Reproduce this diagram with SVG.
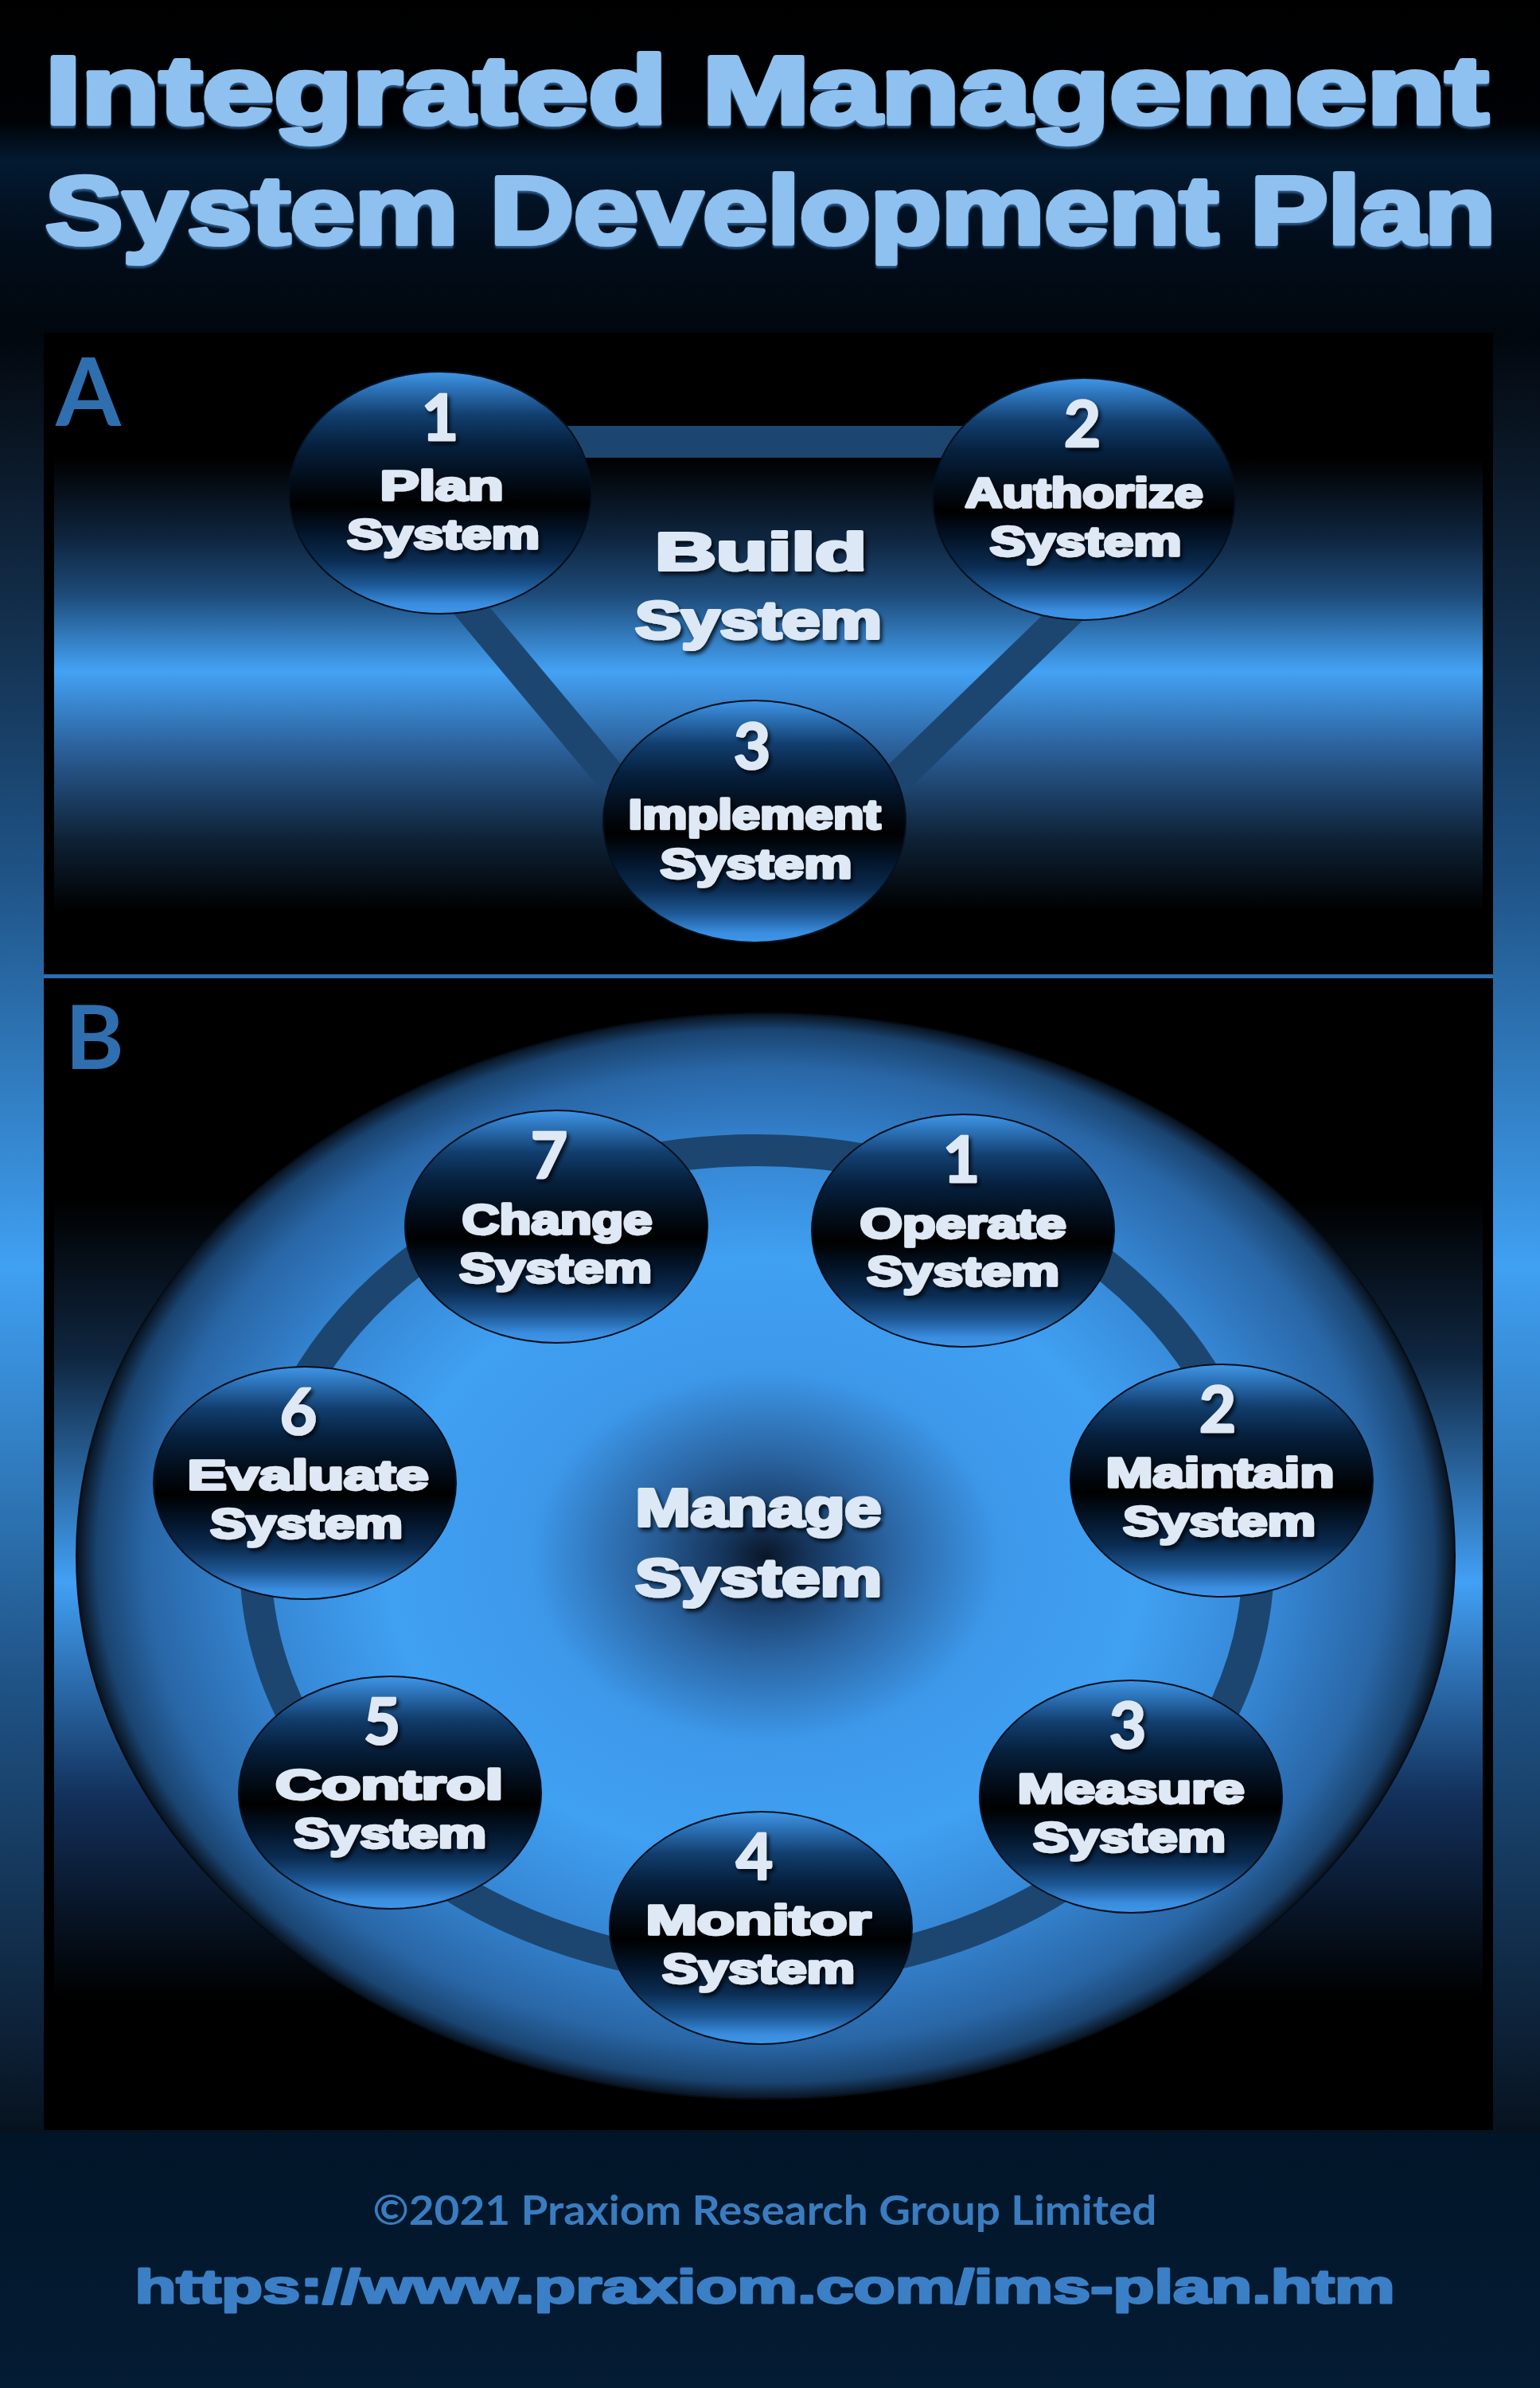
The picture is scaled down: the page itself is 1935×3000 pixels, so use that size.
<svg xmlns="http://www.w3.org/2000/svg" width="1935" height="3000" viewBox="0 0 1935 3000">
<defs>
<style>
.title{font-family:"Liberation Sans",Arial,sans-serif;font-weight:700;font-size:120px;fill:#8ec1ef;stroke:#8ec1ef;stroke-width:6;stroke-linejoin:round;filter:url(#titleSh)}
.lbl{font-family:"Liberation Sans",Arial,sans-serif;font-weight:700;font-size:52px;fill:#dfe9f6;stroke:#dfe9f6;stroke-width:3.5;stroke-linejoin:round;text-anchor:middle;filter:url(#ts)}
.big{font-family:"Liberation Sans",Arial,sans-serif;font-weight:700;font-size:66px;fill:#dce8f5;stroke:#dce8f5;stroke-width:4;stroke-linejoin:round;text-anchor:middle;filter:url(#ts)}
.num{font-family:Lato,"Open Sans",sans-serif;font-weight:700;font-size:80px;fill:#dfe9f6;stroke:#dfe9f6;stroke-width:2.5;stroke-linejoin:round;text-anchor:middle;filter:url(#ts)}
.sec{font-family:Lato,"Open Sans",sans-serif;font-weight:700;fill:#2f6fb0}
.node{fill:url(#nodeG);stroke:#04101e;stroke-width:2}
.conn{fill:none;stroke:#1c4670;stroke-width:40}
</style>
<linearGradient id="topBg" x1="0" y1="0" x2="0" y2="1">
<stop offset="0" stop-color="#000000"/>
<stop offset="0.36" stop-color="#000205"/>
<stop offset="0.48" stop-color="#031a31"/>
<stop offset="0.7" stop-color="#020e1c"/>
<stop offset="1" stop-color="#01070e"/>
</linearGradient>
<linearGradient id="stripBg" x1="0" y1="0" x2="0" y2="1">
<stop offset="0" stop-color="#02070e"/>
<stop offset="0.06" stop-color="#0a1624"/>
<stop offset="0.3" stop-color="#1f5386"/>
<stop offset="0.518" stop-color="#40a0f2"/>
<stop offset="0.75" stop-color="#1f5386"/>
<stop offset="0.97" stop-color="#0a1a2c"/>
<stop offset="1" stop-color="#06121e"/>
</linearGradient>
<linearGradient id="botBg" x1="0" y1="0" x2="0" y2="1">
<stop offset="0" stop-color="#021528"/>
<stop offset="1" stop-color="#041c34"/>
</linearGradient>
<linearGradient id="bandA" x1="0" y1="0" x2="0" y2="1">
<stop offset="0" stop-color="#000000"/>
<stop offset="0.18" stop-color="#0f2640"/>
<stop offset="0.3" stop-color="#1d4a78"/>
<stop offset="0.47" stop-color="#44a2f5"/>
<stop offset="0.65" stop-color="#2a5d95"/>
<stop offset="0.84" stop-color="#0e2236"/>
<stop offset="1" stop-color="#000000"/>
</linearGradient>
<linearGradient id="bandB" x1="0" y1="0" x2="0" y2="1">
<stop offset="0" stop-color="#000000"/>
<stop offset="0.2" stop-color="#0f2640"/>
<stop offset="0.48" stop-color="#42a0f5"/>
<stop offset="0.75" stop-color="#12305a"/>
<stop offset="1" stop-color="#000000"/>
</linearGradient>
<radialGradient id="bigG" cx="0.5" cy="0.5" r="0.5">
<stop offset="0" stop-color="#0a1628"/>
<stop offset="0.06" stop-color="#15345a"/>
<stop offset="0.18" stop-color="#2a63a0"/>
<stop offset="0.34" stop-color="#3d98ea"/>
<stop offset="0.55" stop-color="#40a0f2"/>
<stop offset="0.75" stop-color="#3585d2"/>
<stop offset="0.9" stop-color="#2966a6"/>
<stop offset="0.97" stop-color="#1a4470"/>
<stop offset="1" stop-color="#08121e"/>
</radialGradient>
<linearGradient id="nodeG" x1="0" y1="0" x2="0" y2="1">
<stop offset="0" stop-color="#4096e6"/>
<stop offset="0.06" stop-color="#2f78c0"/>
<stop offset="0.18" stop-color="#123e6e"/>
<stop offset="0.3" stop-color="#06213f"/>
<stop offset="0.45" stop-color="#020c18"/>
<stop offset="0.55" stop-color="#000000"/>
<stop offset="0.66" stop-color="#031428"/>
<stop offset="0.78" stop-color="#0b2c52"/>
<stop offset="0.88" stop-color="#1d5894"/>
<stop offset="0.96" stop-color="#3a8de0"/>
<stop offset="1" stop-color="#4096e6"/>
</linearGradient>
<filter id="ts" x="-20%" y="-30%" width="140%" height="160%">
<feDropShadow dx="3" dy="4" stdDeviation="2.5" flood-color="#000000" flood-opacity="0.75"/>
</filter>
<filter id="titleSh" x="-5%" y="-20%" width="110%" height="140%">
<feDropShadow dx="0" dy="3" stdDeviation="0.8" flood-color="#2b5785" flood-opacity="1"/>
</filter>
</defs>

<g id="background">
<rect x="0" y="0" width="1935" height="420" fill="url(#topBg)"/>
<rect x="0" y="420" width="1935" height="2260" fill="url(#stripBg)"/>
<rect x="0" y="2680" width="1935" height="320" fill="url(#botBg)"/>
</g>

<g id="title">
<text class="title" x="57" y="155" textLength="1813" lengthAdjust="spacingAndGlyphs">Integrated Management</text>
<text class="title" x="57" y="306" textLength="1822" lengthAdjust="spacingAndGlyphs">System Development Plan</text>
</g>

<g id="panelA">
<rect x="55" y="418" width="1821" height="808" fill="#000000"/>
<rect x="68" y="575" width="1795" height="570" fill="url(#bandA)"/>
<text class="sec" x="70" y="535" font-size="118">A</text>
</g>

<rect id="divider" x="55" y="1224" width="1821" height="5" fill="#2e6cb0"/>

<g id="panelB">
<rect x="55" y="1229" width="1821" height="1447" fill="#000000"/>
<rect x="68" y="1505" width="1795" height="1005" fill="url(#bandB)"/>
<text class="sec" x="82" y="1343" font-size="112">B</text>
<ellipse cx="962" cy="1955" rx="866" ry="682" fill="url(#bigG)" stroke="#050d16" stroke-width="2"/>
</g>

<g id="connectors">
<path class="conn" d="M440 555 L1480 555"/>
<path class="conn" d="M520 680 L888 1120"/>
<path class="conn" d="M1434 680 L981 1120"/>
<ellipse class="conn" cx="951" cy="1960" rx="630" ry="515"/>
</g>

<g id="centerA">
<text class="big" x="956" y="716" textLength="266" lengthAdjust="spacingAndGlyphs">Build</text>
<text class="big" x="953" y="802" textLength="310" lengthAdjust="spacingAndGlyphs">System</text>
</g>

<g id="centerB">
<text class="big" x="953" y="1917" textLength="309" lengthAdjust="spacingAndGlyphs">Manage</text>
<text class="big" x="953" y="2005" textLength="310" lengthAdjust="spacingAndGlyphs">System</text>
</g>

<g id="a-plan">
<ellipse class="node" cx="553" cy="619" rx="190" ry="152"/>
<text class="num" x="553" y="553">1</text>
<text class="lbl" x="555" y="628" textLength="155" lengthAdjust="spacingAndGlyphs">Plan</text>
<text class="lbl" x="557" y="689" textLength="242" lengthAdjust="spacingAndGlyphs">System</text>
</g>
<g id="a-authorize">
<ellipse class="node" cx="1362" cy="627" rx="190" ry="152"/>
<text class="num" x="1360" y="561">2</text>
<text class="lbl" x="1362" y="637" textLength="299" lengthAdjust="spacingAndGlyphs">Authorize</text>
<text class="lbl" x="1364" y="698" textLength="241" lengthAdjust="spacingAndGlyphs">System</text>
</g>
<g id="a-implement">
<ellipse class="node" cx="948" cy="1032" rx="190" ry="152"/>
<text class="num" x="945" y="966">3</text>
<text class="lbl" x="948" y="1041" textLength="317" lengthAdjust="spacingAndGlyphs">Implement</text>
<text class="lbl" x="950" y="1103" textLength="241" lengthAdjust="spacingAndGlyphs">System</text>
</g>

<g id="b-operate">
<ellipse class="node" cx="1210" cy="1546" rx="190" ry="146"/>
<text class="num" x="1208" y="1485">1</text>
<text class="lbl" x="1210" y="1555" textLength="259" lengthAdjust="spacingAndGlyphs">Operate</text>
<text class="lbl" x="1210" y="1615" textLength="242" lengthAdjust="spacingAndGlyphs">System</text>
</g>
<g id="b-maintain">
<ellipse class="node" cx="1535" cy="1860" rx="190" ry="146"/>
<text class="num" x="1530" y="1799">2</text>
<text class="lbl" x="1533" y="1868" textLength="287" lengthAdjust="spacingAndGlyphs">Maintain</text>
<text class="lbl" x="1532" y="1929" textLength="242" lengthAdjust="spacingAndGlyphs">System</text>
</g>
<g id="b-measure">
<ellipse class="node" cx="1421" cy="2257" rx="190" ry="146"/>
<text class="num" x="1417" y="2196">3</text>
<text class="lbl" x="1421" y="2265" textLength="285" lengthAdjust="spacingAndGlyphs">Measure</text>
<text class="lbl" x="1419" y="2326" textLength="242" lengthAdjust="spacingAndGlyphs">System</text>
</g>
<g id="b-monitor">
<ellipse class="node" cx="956" cy="2422" rx="190" ry="146"/>
<text class="num" x="948" y="2361">4</text>
<text class="lbl" x="953" y="2430" textLength="283" lengthAdjust="spacingAndGlyphs">Monitor</text>
<text class="lbl" x="953" y="2491" textLength="242" lengthAdjust="spacingAndGlyphs">System</text>
</g>
<g id="b-control">
<ellipse class="node" cx="490" cy="2252" rx="190" ry="146"/>
<text class="num" x="480" y="2191">5</text>
<text class="lbl" x="489" y="2260" textLength="286" lengthAdjust="spacingAndGlyphs">Control</text>
<text class="lbl" x="490" y="2321" textLength="242" lengthAdjust="spacingAndGlyphs">System</text>
</g>
<g id="b-evaluate">
<ellipse class="node" cx="383" cy="1863" rx="190" ry="146"/>
<text class="num" x="375" y="1802">6</text>
<text class="lbl" x="387" y="1871" textLength="303" lengthAdjust="spacingAndGlyphs">Evaluate</text>
<text class="lbl" x="385" y="1932" textLength="242" lengthAdjust="spacingAndGlyphs">System</text>
</g>
<g id="b-change">
<ellipse class="node" cx="699" cy="1541" rx="190" ry="146"/>
<text class="num" x="690" y="1480">7</text>
<text class="lbl" x="700" y="1550" textLength="239" lengthAdjust="spacingAndGlyphs">Change</text>
<text class="lbl" x="698" y="1611" textLength="242" lengthAdjust="spacingAndGlyphs">System</text>
</g>

<g id="footer">
<text x="961" y="2795" text-anchor="middle" font-family="Lato, 'Open Sans', sans-serif" font-weight="700" font-size="52" fill="#3a7cc0" textLength="985" lengthAdjust="spacingAndGlyphs">©2021 Praxiom Research Group Limited</text>
<text x="961" y="2893" text-anchor="middle" font-family="'Liberation Sans', Arial, sans-serif" font-weight="700" font-size="60" fill="#3b7fc6" stroke="#3b7fc6" stroke-width="3" stroke-linejoin="round" textLength="1583" lengthAdjust="spacingAndGlyphs">https://www.praxiom.com/ims-plan.htm</text>
</g>
</svg>
